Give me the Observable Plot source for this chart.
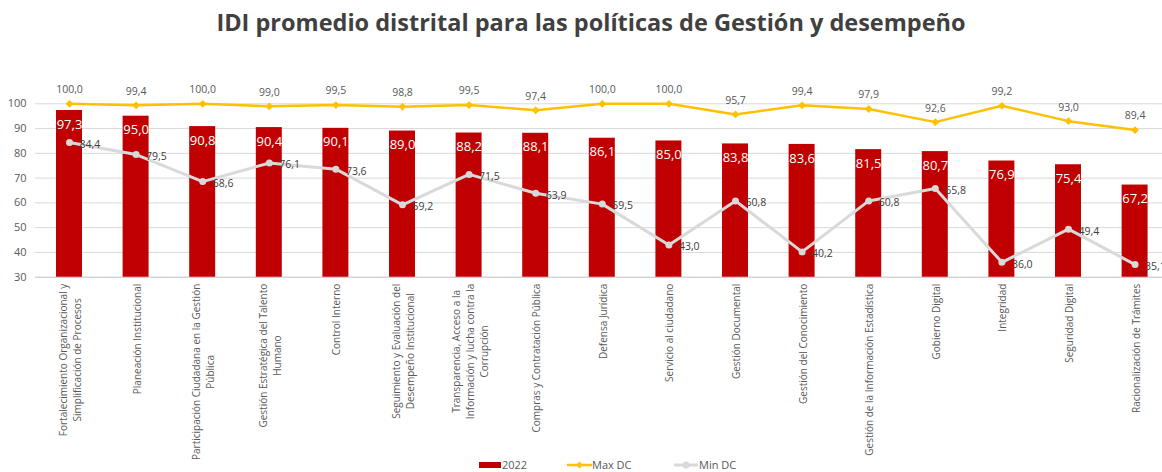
<!DOCTYPE html>
<html><head><meta charset="utf-8">
<script src="https://cdn.jsdelivr.net/npm/d3@7"></script>
<script src="https://cdn.jsdelivr.net/npm/@observablehq/plot@0.6"></script>
<style>
html,body{margin:0;padding:0;background:#fff;overflow:hidden;}
#wrap{position:relative;width:1162px;height:472px;font-family:"Open Sans",sans-serif;overflow:hidden;}
#title{height:44px;line-height:44px;text-align:center;font-weight:bold;font-size:23.5px;color:#404040;white-space:nowrap;padding-left:20px;}
#chart svg{display:block;overflow:visible;}
.lg{position:absolute;font-size:11px;color:#595959;line-height:16px;top:457px;white-space:nowrap;}
.sw{position:absolute;}
</style></head>
<body>
<div id="wrap">
  <div id="title">IDI promedio distrital para las políticas de Gestión y desempeño</div>
  <div id="chart"></div>
  <div class="sw" style="left:479px;top:462px;width:22px;height:6px;background:#C00000"></div>
  <div class="lg" style="left:502px">2022</div>
  <svg class="sw" style="left:567px;top:459px" width="25" height="12"><line x1="0" x2="25" y1="6" y2="6" stroke="#FFC000" stroke-width="2.5"/><path d="M12.5,2.5L16,6L12.5,9.5L9,6Z" fill="#FFC000"/></svg>
  <div class="lg" style="left:592px">Max DC</div>
  <svg class="sw" style="left:674px;top:459px" width="24" height="12"><line x1="0" x2="24" y1="6" y2="6" stroke="#D9D9D9" stroke-width="3"/><circle cx="12" cy="6" r="3.5" fill="#D9D9D9"/></svg>
  <div class="lg" style="left:699px">Min DC</div>
</div>
<script>
const categories = [
  "Fortalecimiento Organizacional y Simplificación de Procesos",
  "Planeación Institucional",
  "Participación Ciudadana en la Gestión Pública",
  "Gestión Estratégica del Talento Humano",
  "Control Interno",
  "Seguimiento y Evaluación del Desempeño Institucional",
  "Transparencia, Acceso a la Información y lucha contra la Corrupción",
  "Compras y Contratación Pública",
  "Defensa Jurídica",
  "Servicio al ciudadano",
  "Gestión Documental",
  "Gestión del Conocimiento",
  "Gestión de la Información Estadística",
  "Gobierno Digital",
  "Integridad",
  "Seguridad Digital",
  "Racionalización de Trámites"
];
const tickLabels = [
  "Fortalecimiento Organizacional y\nSimplificación de Procesos",
  "Planeación Institucional",
  "Participación Ciudadana en la Gestión\nPública",
  "Gestión Estratégica del Talento\nHumano",
  "Control Interno",
  "Seguimiento y Evaluación del\nDesempeño Institucional",
  "Transparencia, Acceso a la\nInformación y lucha contra la\nCorrupción",
  "Compras y Contratación Pública",
  "Defensa Jurídica",
  "Servicio al ciudadano",
  "Gestión Documental",
  "Gestión del Conocimiento",
  "Gestión de la Información Estadística",
  "Gobierno Digital",
  "Integridad",
  "Seguridad Digital",
  "Racionalización de Trámites"
];
const values2022 = [97.3, 95.0, 90.8, 90.4, 90.1, 89.0, 88.2, 88.1, 86.1, 85.0, 83.8, 83.6, 81.5, 80.7, 76.9, 75.4, 67.2];
const maxDC = [100.0, 99.4, 100.0, 99.0, 99.5, 98.8, 99.5, 97.4, 100.0, 100.0, 95.7, 99.4, 97.9, 92.6, 99.2, 93.0, 89.4];
const minDC = [84.4, 79.5, 68.6, 76.1, 73.6, 59.2, 71.5, 63.9, 59.5, 43.0, 60.8, 40.2, 60.8, 65.8, 36.0, 49.4, 35.1];
const yTicks = [30, 40, 50, 60, 70, 80, 90, 100];

const fmt = v => d3.format(".1f")(v).replace(".", ",");
const data = categories.map((c, i) => ({cat: c, v: values2022[i], max: maxDC[i], min: minDC[i]}));

const labelFont = 10;
const ctx = document.createElement("canvas").getContext("2d");
ctx.font = `${labelFont}px "Open Sans"`;
const labelMarks = categories.map((c, i) => {
  const lines = tickLabels[i].split("\n");
  const maxW = d3.max(lines, l => ctx.measureText(l).width);
  return Plot.text([c], {
    x: d => d, frameAnchor: "bottom", text: () => tickLabels[i],
    rotate: -90, textAnchor: "middle", lineAnchor: "middle", lineHeight: 1.4,
    fontSize: labelFont, fill: "#595959", dy: 6.5 + maxW / 2
  });
});

const chart = Plot.plot({
  width: 1162, height: 428,
  marginTop: 59.3, marginBottom: 195.3, marginLeft: 35, marginRight: 0,
  style: {fontFamily: "Open Sans", background: "transparent", overflow: "visible"},
  x: {domain: categories, range: [35.7, 1167.9], paddingInner: 0.61, paddingOuter: 0.305, round: false, axis: null},
  y: {domain: [30, 100], axis: null},
  marks: [
    Plot.ruleY(yTicks.filter(t => t > 30), {stroke: "#D9D9D9", strokeWidth: 1}),
    Plot.ruleY([30], {stroke: "#BFBFBF", strokeWidth: 1}),
    Plot.axisY(yTicks, {tickSize: 0, tickPadding: 9, fontSize: 11, color: "#595959", label: null}),
    Plot.barY(data, {x: "cat", y: "v", fill: "#C00000", clip: true}),
    Plot.text(data, {x: "cat", y: "v", text: d => fmt(d.v), dy: 14, fill: "white", fontSize: 13}),
    Plot.lineY(data, {x: "cat", y: "max", stroke: "#FFC000", strokeWidth: 2.5}),
    Plot.dot(data, {x: "cat", y: "max", symbol: "diamond2", r: 3.5, fill: "#FFC000"}),
    Plot.lineY(data, {x: "cat", y: "min", stroke: "#D9D9D9", strokeWidth: 3}),
    Plot.dot(data, {x: "cat", y: "min", r: 3.5, fill: "#D9D9D9"}),
    Plot.text(data, {x: "cat", y: "max", text: d => fmt(d.max), dy: -14, fill: "#595959", fontSize: 10.5}),
    Plot.text(data, {x: "cat", y: "min", text: d => fmt(d.min), dx: 10, dy: 2, textAnchor: "start", fill: "#404040", fontSize: 10.5}),
    ...labelMarks
  ]
});
document.getElementById("chart").appendChild(chart);
</script>
</body></html>
